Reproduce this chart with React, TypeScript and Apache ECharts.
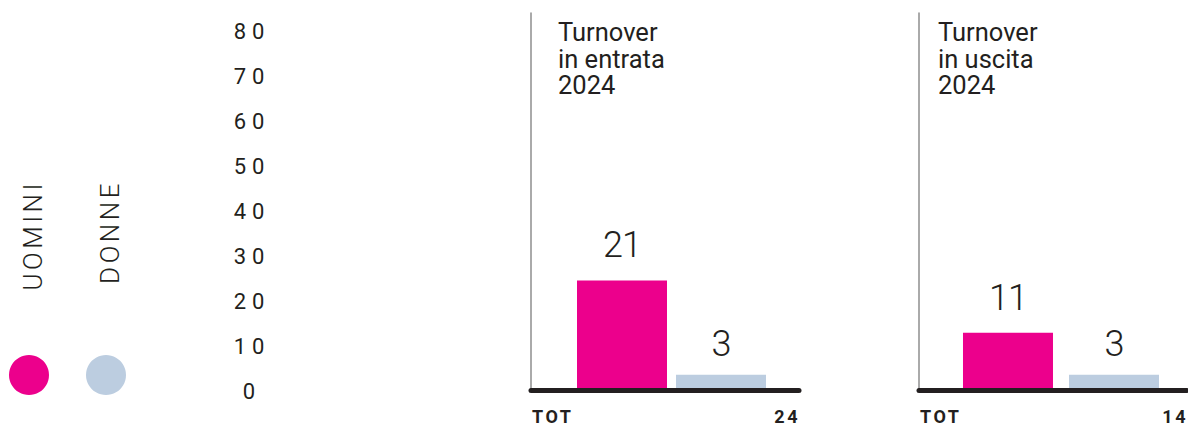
import React, { useEffect, useRef } from "react";
import * as echarts from "echarts";

// ---- data ----
const yTicks = [0, 10, 20, 30, 40, 50, 60, 70, 80];
const legendNames = ["UOMINI", "DONNE"];
const panelTitles = ["Turnover\nin entrata\n2024", "Turnover\nin uscita\n2024"];
const uomini = [21, 11];
const donne = [3, 3];
const totals = [24, 14];
const totLabel = "TOT";

const MAGENTA = "#EC008C";
const BLUE = "#BCCDE0";
const INK = "#231F20";
const FONT = "Roboto";

export default function App() {
  const ref = useRef<HTMLDivElement>(null);

  useEffect(() => {
    if (!ref.current) return;
    const chart = echarts.init(ref.current, undefined, { renderer: "svg" });

    const frameLeft = [531, 919];
    const frameWidth = 268;
    const groupCenter = [671.5, 1061];
    const barGridWidth = 220;
    const barGaps = ["10%", "17.8%"];
    const titleOffset = [27, 19];
    const top = 13;
    const bottom = 35.5;

    const grids: any[] = [{ left: 300, top: 31, bottom: 35, width: 10 }];
    const xAxes: any[] = [{ type: "value", gridIndex: 0, show: false }];
    const yAxes: any[] = [
      {
        type: "value",
        gridIndex: 0,
        min: yTicks[0],
        max: yTicks[yTicks.length - 1],
        interval: 10,
        axisLine: { show: false },
        axisTick: { show: false },
        splitLine: { show: false },
        axisLabel: {
          show: true,
          align: "center",
          margin: 48,
          fontSize: 22,
          fontFamily: FONT,
          color: INK,
        },
      },
    ];
    const series: any[] = [];
    const graphics: any[] = [];

    [0, 1].forEach((p) => {
      // frame grid (axis lines)
      const gFrame = grids.length;
      grids.push({ left: frameLeft[p], width: frameWidth, top, bottom });
      xAxes.push({
        type: "category",
        gridIndex: gFrame,
        data: [""],
        z: 10,
        axisLine: { show: true, lineStyle: { color: INK, width: 5 } },
        axisTick: { show: false },
        axisLabel: { show: false },
      });
      yAxes.push({
        type: "value",
        gridIndex: gFrame,
        min: 0,
        max: 1,
        axisLine: { show: true, lineStyle: { color: "#8E8E8E", width: 1.5 } },
        axisTick: { show: false },
        axisLabel: { show: false },
        splitLine: { show: false },
      });
      // bar grid
      const gBar = grids.length;
      grids.push({
        left: groupCenter[p] - barGridWidth / 2,
        width: barGridWidth,
        top,
        bottom,
      });
      xAxes.push({
        type: "category",
        gridIndex: gBar,
        data: [panelTitles[p]],
        show: false,
      });
      yAxes.push({
        type: "value",
        gridIndex: gBar,
        min: 0,
        max: 72,
        show: false,
        splitLine: { show: false },
      });
      const labelBase = {
        show: true,
        position: "top",
        fontSize: 36,
        fontWeight: 300,
        fontFamily: FONT,
        color: INK,
      };
      series.push({
        type: "bar",
        name: legendNames[0],
        xAxisIndex: gBar,
        yAxisIndex: gBar,
        data: [uomini[p]],
        barWidth: 90,
        barGap: barGaps[p],
        itemStyle: { color: MAGENTA },
        label: { ...labelBase, distance: 17 },
      });
      series.push({
        type: "bar",
        name: legendNames[1],
        xAxisIndex: gBar,
        yAxisIndex: gBar,
        data: [donne[p]],
        barWidth: 90,
        barGap: barGaps[p],
        itemStyle: { color: BLUE },
        label: { ...labelBase, distance: 13 },
      });

      // title
      graphics.push({
        type: "text",
        left: frameLeft[p] + titleOffset[p],
        top: 19,
        style: {
          text: panelTitles[p],
          fontSize: 25.5,
          lineHeight: 26.5,
          fontFamily: FONT,
          fill: INK,
        },
      });
      // TOT row
      graphics.push({
        type: "text",
        x: frameLeft[p] + 1,
        y: 416,
        style: {
          text: totLabel,
          fontSize: 18,
          fontWeight: "bold",
          fontFamily: FONT,
          fill: INK,
          align: "left",
          verticalAlign: "middle",
        },
      });
      graphics.push({
        type: "text",
        x: frameLeft[p] + frameWidth + 1,
        y: 416,
        style: {
          text: String(totals[p]),
          fontSize: 18,
          fontWeight: "bold",
          fontFamily: FONT,
          fill: INK,
          align: "right",
          verticalAlign: "middle",
        },
      });
    });

    // legend
    const legendX = [33, 110];
    const circleX = [29, 106];
    const legendColors = [MAGENTA, BLUE];
    legendNames.forEach((n, i) => {
      graphics.push({
        type: "text",
        x: legendX[i],
        y: 180,
        rotation: Math.PI / 2,
        style: {
          text: n,
          fontSize: 26,
          fontWeight: 300,
          fontFamily: FONT,
          fill: INK,
          align: "right",
          verticalAlign: "middle",
        },
      });
      graphics.push({
        type: "circle",
        shape: { cx: circleX[i], cy: 375, r: 20 },
        style: { fill: legendColors[i] },
      });
    });

    chart.setOption({
      animation: false,
      backgroundColor: "#ffffff",
      grid: grids,
      xAxis: xAxes,
      yAxis: yAxes,
      series,
      graphic: graphics,
    });

    return () => chart.dispose();
  }, []);

  return (
    <>
      <style>{`
        text[style*="22px"] { letter-spacing: 6px; }
        text[style*="26px"] { letter-spacing: 3.5px; }
        text[style*="18px"] { letter-spacing: 2.5px; }
        text[style*="36px"] { letter-spacing: -1px; }
      `}</style>
      <div
        ref={ref}
        style={{
          position: "fixed",
          left: 0,
          top: 0,
          width: 1188,
          height: 426,
          background: "#fff",
        }}
      />
    </>
  );
}
